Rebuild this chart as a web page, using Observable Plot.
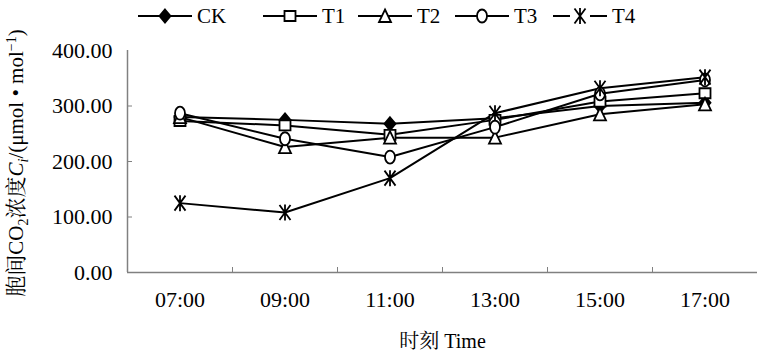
<!DOCTYPE html>
<html><head><meta charset="utf-8">
<script src="https://cdn.jsdelivr.net/npm/d3@7"></script>
<script src="https://cdn.jsdelivr.net/npm/@observablehq/plot@0.6"></script>
<style>
body{margin:0;background:#fff;}
#wrap{position:relative;width:769px;height:361px;}
#wrap svg{position:absolute;left:0;top:0;}
</style></head><body><div id="wrap"></div>
<script>
const times = ["07:00","09:00","11:00","13:00","15:00","17:00"];
const series = ["CK","T1","T2","T3","T4"];
const CK = [280,275,268,278,300,306];
const T1 = [273,265,248,275,308,323];
const T2 = [280,226,243,243,285,303];
const T3 = [287,241,208,262,322,347];
const T4 = [125,108,170,287,332,352];
const yTicks = [0,100,200,300,400];
const xLabel = "时刻 Time";

const FONT = '"Liberation Serif", "Noto Serif CJK SC", "Noto Sans CJK SC", serif';
const values = {CK, T1, T2, T3, T4};
const data = series.flatMap(s => values[s].map((v, i) => ({series: s, t: i + 0.5, value: v})));

// marker shapes
const diamondSym = {draw(c){c.moveTo(0,-6.5);c.lineTo(5.5,0);c.lineTo(0,6.5);c.lineTo(-5.5,0);c.closePath();}};
const squareSym = {draw(c){c.moveTo(-5.5,-5);c.lineTo(5.5,-5);c.lineTo(5.5,5);c.lineTo(-5.5,5);c.closePath();}};
const triSym = {draw(c){c.moveTo(0,-6.5);c.lineTo(6,6);c.lineTo(-6,6);c.closePath();}};
const ellSym = {draw(c){const rx=5, ry=6.5, k=0.5523;
  c.moveTo(rx,0);
  c.bezierCurveTo(rx,ry*k,rx*k,ry,0,ry);
  c.bezierCurveTo(-rx*k,ry,-rx,ry*k,-rx,0);
  c.bezierCurveTo(-rx,-ry*k,-rx*k,-ry,0,-ry);
  c.bezierCurveTo(rx*k,-ry,rx,-ry*k,rx,0);
  c.closePath();}};
const starSym = {draw(c){c.moveTo(0,-8);c.lineTo(0,8);c.moveTo(-5.5,-7.5);c.lineTo(5.5,7.5);c.moveTo(-5.5,7.5);c.lineTo(5.5,-7.5);}};
const style = {
  CK: {symbol: diamondSym, fill: "black", stroke: "black"},
  T1: {symbol: squareSym, fill: "white", stroke: "black"},
  T2: {symbol: triSym, fill: "white", stroke: "black"},
  T3: {symbol: ellSym, fill: "white", stroke: "black"},
  T4: {symbol: starSym, fill: "none", stroke: "black"}
};

const axisColor = "#808080";
const chart = Plot.plot({
  width: 769, height: 361,
  marginTop: 50, marginBottom: 89, marginLeft: 127, marginRight: 12,
  style: {fontFamily: FONT, color: "black", background: "white"},
  x: {domain: [0, 6], label: null},
  y: {domain: [0, 400], label: null},
  marks: [
    Plot.ruleX([0], {stroke: axisColor, strokeWidth: 1.5}),
    Plot.ruleY([0], {stroke: axisColor, strokeWidth: 1.5}),
    Plot.axisY(yTicks.slice(1, -1), {tickSize: 5, dx: 5, tickFormat: () => "", stroke: axisColor, label: null}),
    Plot.axisY(yTicks, {tickSize: 0, tickPadding: 15, tickFormat: d => d.toFixed(2), fill: "black", label: null}),
    Plot.axisX([1,2,3,4,5], {tickSize: 5, dy: -5, tickFormat: () => "", stroke: axisColor, label: null}),
    Plot.axisX(times.map((_, i) => i + 0.5), {tickSize: 0, tickPadding: 19, tickFormat: d => times[d - 0.5], fill: "black", label: null}),
    Plot.line(data, {x: "t", y: "value", z: "series", stroke: "black", strokeWidth: 2}),
    ...series.map(s => Plot.dot(data.filter(d => d.series === s), {x: "t", y: "value", r: 5, symbol: style[s].symbol, fill: style[s].fill, stroke: style[s].stroke, strokeWidth: 1.8})),
    Plot.text([xLabel], {frameAnchor: "bottom", dy: 75, fill: "black"})
  ]
});
const wrap = document.getElementById("wrap");
wrap.appendChild(chart);
const svg = d3.select(chart);
svg.selectAll("text").style("font-family", FONT).style("font-size", "22px");
svg.selectAll('g[aria-label="text"] text').style("font-size", "20px");

// Y axis title with sub/superscripts
const yt = svg.append("text")
  .attr("transform", "translate(23,163) rotate(-90)")
  .attr("text-anchor", "middle")
  .style("font-family", FONT)
  .style("font-size", "21px")
  .attr("fill", "black");
yt.append("tspan").text("胞间CO");
yt.append("tspan").attr("dy", 5).style("font-size", "14px").text("2");
yt.append("tspan").attr("dy", -5).text("浓度");
yt.append("tspan").attr("font-style", "italic").text("C");
yt.append("tspan").attr("dy", 5).style("font-size", "14px").attr("font-style", "italic").text("i");
yt.append("tspan").attr("dy", -5).text("/(μmol • mol");
yt.append("tspan").attr("dy", -7).style("font-size", "14px").text("−1");
yt.append("tspan").attr("dy", 7).text(")");

// Legend
const legendX = [165, 290, 385, 482, 580];
const leg = d3.select(wrap).append("svg").attr("width", 769).attr("height", 34);
series.forEach((s, i) => {
  const cx = legendX[i], cy = 16;
  const g = leg.append("g");
  if (s === "T4") {
    g.append("line").attr("x1", cx - 27).attr("x2", cx - 10).attr("y1", cy).attr("y2", cy).attr("stroke", "black").attr("stroke-width", 2);
    g.append("line").attr("x1", cx + 10).attr("x2", cx + 27).attr("y1", cy).attr("y2", cy).attr("stroke", "black").attr("stroke-width", 2);
  } else {
    g.append("line").attr("x1", cx - 27).attr("x2", cx + 27).attr("y1", cy).attr("y2", cy).attr("stroke", "black").attr("stroke-width", 2);
  }
  g.append("path").attr("d", d3.symbol(style[s].symbol)()).attr("transform", `translate(${cx},${cy})`)
    .attr("fill", style[s].fill).attr("stroke", style[s].stroke).attr("stroke-width", 1.8);
  g.append("text").attr("x", cx + 32).attr("y", cy).attr("dy", "0.35em")
    .style("font-family", FONT).style("font-size", "21px").attr("fill", "black").text(s);
});
</script>
</body></html>
